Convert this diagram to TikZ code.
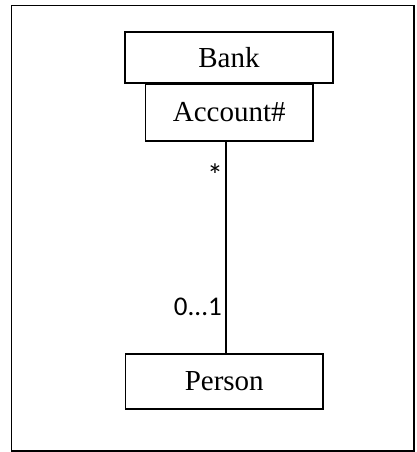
\documentclass[tikz,border=0pt]{standalone}
\usepackage{fontspec}
\setmainfont{Liberation Serif}
\newfontfamily\labelfont{Carlito}
\begin{document}
\begin{tikzpicture}[x=1pt,y=-1pt,
  classbox/.style={draw=black,line width=1.6pt,rectangle,inner sep=0pt,
    font=\fontsize{29}{32}\selectfont},
  mult/.style={inner sep=0pt,font=\labelfont\fontsize{27}{30}\selectfont},
  assoc/.style={draw=black,line width=1.4pt}]
  \useasboundingbox (0,0) rectangle (417,452);
  % outer frame
  \draw[line width=1.6pt] (11.5,5.5) rectangle (414,451);
  % classes
  \node[classbox,minimum width=208pt,minimum height=51pt] (bank) at (229,57.5) {Bank};
  \node[classbox,minimum width=167.5pt,minimum height=57pt,anchor=north] (acc) at (229.25,83) {Account\#};
  \node[classbox,minimum width=197.5pt,minimum height=55pt] (person) at (224.25,381.5) {Person};
  % association
  \coordinate (top) at (226,0);
  \draw[assoc] (acc.south -| top) -- (person.north -| top);
  \node[mult,font=\labelfont\fontsize{32}{34}\selectfont,anchor=north] (many) at (215,164) {*};
  \node[mult,anchor=east] (opt) at (222,307) {0...1};
\end{tikzpicture}
\end{document}
